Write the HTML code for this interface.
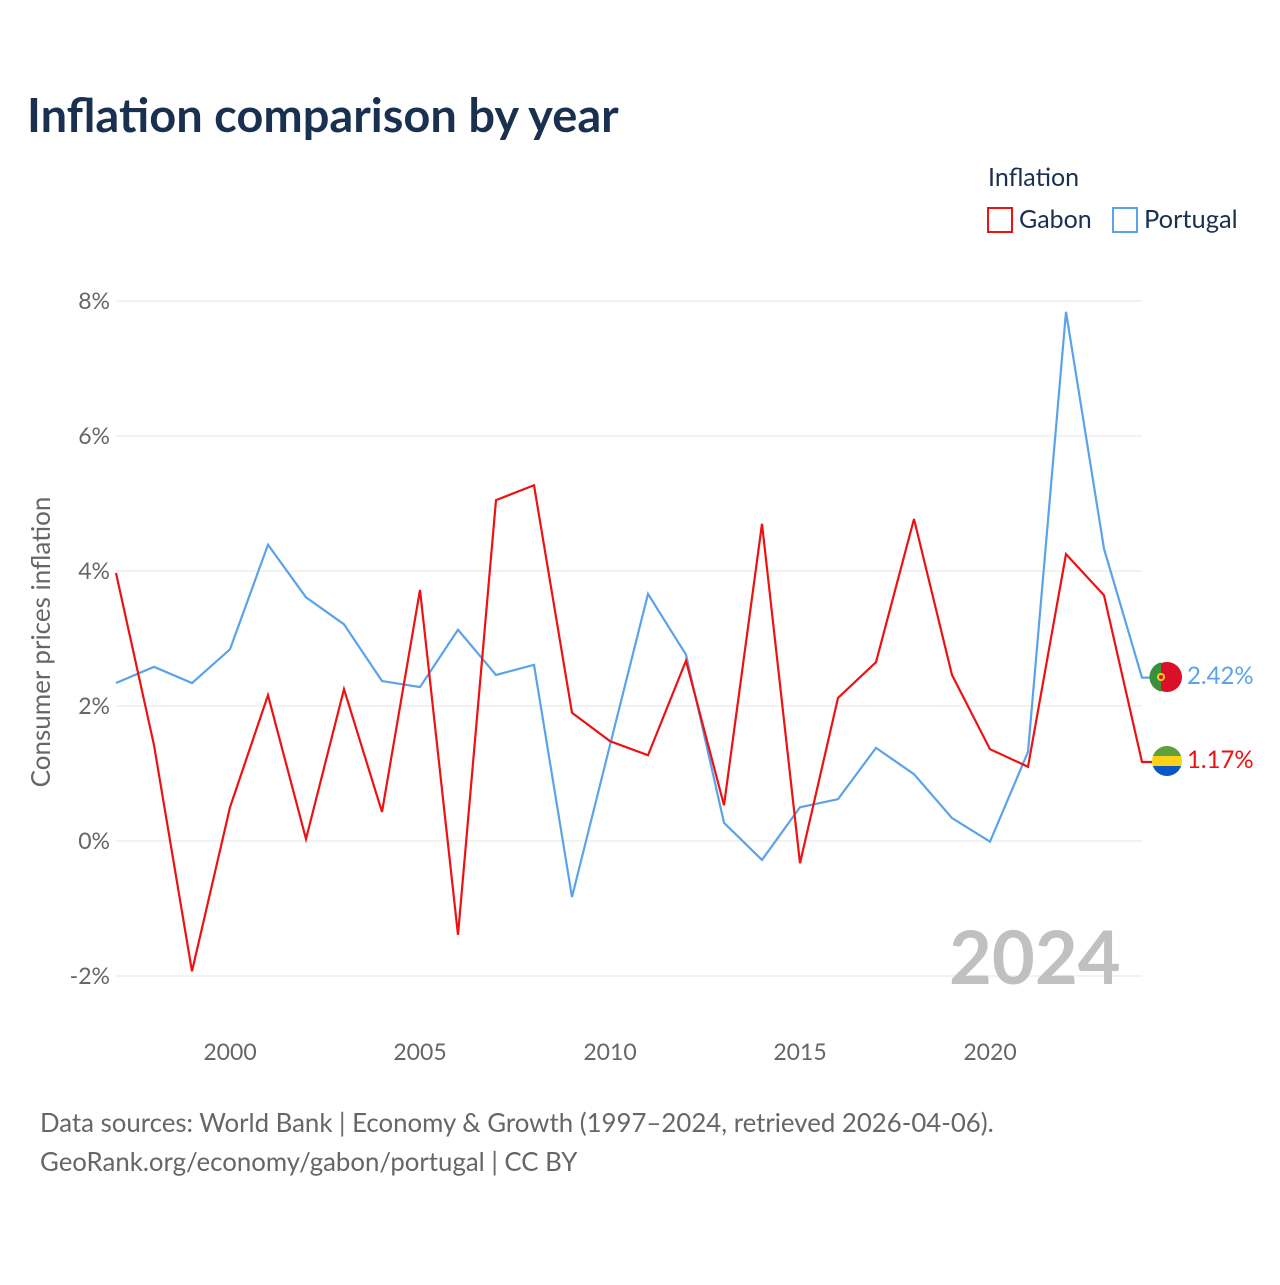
<!DOCTYPE html>
<html><head><meta charset="utf-8"><style>
body{margin:0;background:#fff;font-family:"Liberation Sans",sans-serif}
svg text{font-family:"Lato","Liberation Sans",sans-serif}
</style></head><body>
<svg width="1280" height="1280" viewBox="0 0 1280 1280" xmlns="http://www.w3.org/2000/svg">
<text x="27" y="132" font-size="47" font-weight="bold" fill="#1a3050">Inflation comparison by year</text>
<g>
<text x="988" y="186" font-size="25" fill="#1a3050">Inflation</text>
<rect x="988" y="208" width="24" height="24" fill="none" stroke="#ee1111" stroke-width="2"/>
<text x="1019" y="228" font-size="25" fill="#1a3050">Gabon</text>
<rect x="1113" y="208" width="24" height="24" fill="none" stroke="#5ba3e8" stroke-width="2"/>
<text x="1144" y="228" font-size="25.5" fill="#1a3050">Portugal</text>
</g>
<g id="grid"></g><g id="xt"></g><g id="lines"></g>
<text x="949" y="984" font-size="74" font-weight="bold" fill="#c0c0c0">2024</text>
<text transform="translate(50,642) rotate(-90)" text-anchor="middle" font-size="26" fill="#666">Consumer prices inflation</text>
<g>
<circle cx="1167" cy="677" r="15" fill="#da0f2a"/>
<path d="M1161 662.4 A15 15 0 0 0 1161 691.6 Z" fill="#3a8f3a"/><circle cx="1161" cy="677" r="4" fill="#f6d117"/><circle cx="1161" cy="677" r="2" fill="#da0f2a"/>
</g>
<g>
<clipPath id="gc"><circle cx="1167" cy="761" r="15"/></clipPath>
<g clip-path="url(#gc)"><rect x="1150" y="746" width="34" height="10" fill="#5fa03c"/><rect x="1150" y="756" width="34" height="10" fill="#fcd116"/><rect x="1150" y="766" width="34" height="11" fill="#0a58c4"/></g>
</g>
<text id="lblP" x="1187" y="684" font-size="24" fill="#5ba3e8"></text>
<text id="lblG" x="1187" y="768" font-size="24" fill="#ee1111"></text>
<text x="40" y="1132" font-size="25.8" fill="#666">Data sources: World Bank | Economy &amp; Growth (1997–2024, retrieved 2026-04-06).</text>
<text x="40" y="1171" font-size="25.8" fill="#666">GeoRank.org/economy/gabon/portugal | CC BY</text>
</svg>
<script>
const years=[1997,1998,1999,2000,2001,2002,2003,2004,2005,2006,2007,2008,2009,2010,2011,2012,2013,2014,2015,2016,2017,2018,2019,2020,2021,2022,2023,2024];
const gabon=[3.97,1.42,-1.93,0.50,2.16,0.03,2.25,0.43,3.72,-1.39,5.05,5.27,1.90,1.48,1.27,2.67,0.53,4.70,-0.33,2.12,2.65,4.77,2.46,1.36,1.10,4.25,3.64,1.17];
const portugal=[2.34,2.58,2.34,2.84,4.39,3.61,3.21,2.37,2.28,3.13,2.46,2.61,-0.83,1.42,3.66,2.76,0.27,-0.28,0.50,0.62,1.38,0.99,0.34,-0.01,1.32,7.84,4.33,2.42];
const yTicks=[-2,0,2,4,6,8];
const xTicks=[2000,2005,2010,2015,2020];
const NS="http://www.w3.org/2000/svg";
const X=v=>116+(v-1997)*38, Y=v=>841-v*67.5;
const grid=document.getElementById('grid'),xt=document.getElementById('xt'),lines=document.getElementById('lines');
yTicks.forEach(t=>{
 const l=document.createElementNS(NS,'line');
 l.setAttribute('x1',116);l.setAttribute('x2',1142);l.setAttribute('y1',Y(t));l.setAttribute('y2',Y(t));l.setAttribute('stroke','#e6e6e6');
 
 
 grid.appendChild(l);
 const s=document.createElementNS(NS,'text');
 s.setAttribute('x',110);s.setAttribute('y',Y(t)+8);s.setAttribute('text-anchor','end');s.setAttribute('font-size','23');s.setAttribute('fill','#666');
 s.textContent=t+'%';
 
 
 grid.appendChild(s);
});
xTicks.forEach(t=>{
 const s=document.createElementNS(NS,'text');
 s.setAttribute('x',X(t));s.setAttribute('y',1060);s.setAttribute('text-anchor','middle');s.setAttribute('font-size','23');s.setAttribute('fill','#666');
 s.textContent=t;
 
 
 xt.appendChild(s);
});
function draw(vals,col,name){
 const p=document.createElementNS(NS,'polyline');
 let pts=vals.map((v,i)=>X(years[i])+','+Y(v));
 pts.push((X(years[years.length-1])+10)+','+Y(vals[vals.length-1]));
 p.setAttribute('points',pts.join(' '));p.setAttribute('fill','none');p.setAttribute('stroke',col);p.setAttribute('stroke-width','2.2');
 
 
 lines.appendChild(p);
}
draw(portugal,'#5ba3e8','line-portugal');
draw(gabon,'#ee1111','line-gabon');
document.getElementById('lblP').textContent=portugal[portugal.length-1].toFixed(2)+'%';
document.getElementById('lblG').textContent=gabon[gabon.length-1].toFixed(2)+'%';
</script>
</body></html>
